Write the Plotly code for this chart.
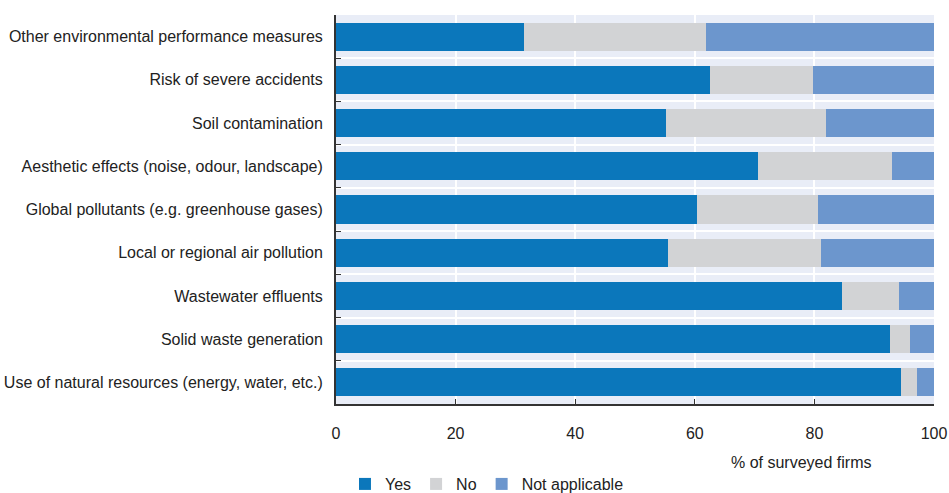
import plotly.graph_objects as go

# Environmental aspects covered by firms' performance measurement (top to bottom)
categories = [
    "Other environmental performance measures",
    "Risk of severe accidents",
    "Soil contamination",
    "Aesthetic effects (noise, odour, landscape)",
    "Global pollutants (e.g. greenhouse gases)",
    "Local or regional air pollution",
    "Wastewater effluents",
    "Solid waste generation",
    "Use of natural resources (energy, water, etc.)",
]
yes_vals = [31.4, 62.5, 55.1, 70.5, 60.3, 55.6, 84.6, 92.7, 94.5]
no_vals = [30.4, 17.2, 26.8, 22.4, 20.3, 25.5, 9.5, 3.3, 2.7]
na_vals = [38.2, 20.3, 18.1, 7.1, 19.4, 18.9, 5.9, 4.0, 2.8]
x_ticks = [0, 20, 40, 60, 80, 100]

series = [
    ("Yes", yes_vals, "#0b77bb"),
    ("No", no_vals, "#d2d3d5"),
    ("Not applicable", na_vals, "#6c96cd"),
]

FONT = "Liberation Sans, Arial, sans-serif"
TEXT = "#222222"

fig = go.Figure()
for name, vals, color in series:
    fig.add_trace(go.Bar(
        y=categories,
        x=vals,
        name=name,
        orientation="h",
        marker=dict(color=color, line=dict(width=0)),
        width=0.65,
    ))

fig.update_layout(
    template="none",
    barmode="stack",
    width=949,
    height=493,
    margin=dict(l=336, r=15, t=15, b=89, autoexpand=False),
    paper_bgcolor="white",
    plot_bgcolor="#e9edf7",
    font=dict(family=FONT, size=16, color=TEXT),
    showlegend=True,
    legend=dict(
        orientation="h",
        x=0.015, xanchor="left",
        y=-0.162, yanchor="top",
        font=dict(size=16, color=TEXT),
        itemwidth=30,
        tracegroupgap=0,
        traceorder="normal",
        bgcolor="rgba(0,0,0,0)",
    ),
    xaxis=dict(
        range=[0, 100],
        tickvals=x_ticks,
        showgrid=True,
        gridcolor="white",
        gridwidth=1.5,
        zeroline=False,
        showline=True,
        linecolor="#333333",
        linewidth=2,
        ticks="inside",
        ticklen=5,
        tickcolor="#333333",
        tickfont=dict(size=16, color=TEXT),
        ticklabelstandoff=14,
        automargin=False,
        fixedrange=True,
    ),
    yaxis=dict(
        categoryorder="array",
        categoryarray=categories[::-1],
        tickson="boundaries",
        showgrid=True,
        gridcolor="white",
        gridwidth=1.5,
        zeroline=False,
        showline=True,
        linecolor="#333333",
        linewidth=2,
        ticks="inside",
        ticklen=5,
        tickcolor="#333333",
        tickfont=dict(size=16, color=TEXT),
        ticklabelstandoff=8,
        automargin=False,
        fixedrange=True,
    ),
    annotations=[
        dict(
            text="% of surveyed firms",
            xref="paper", yref="paper",
            x=(873 - 336) / 598, y=-0.15,
            xanchor="right", yanchor="middle",
            showarrow=False,
            font=dict(family=FONT, size=16, color=TEXT),
        )
    ],
)

fig.write_html("out.html")
